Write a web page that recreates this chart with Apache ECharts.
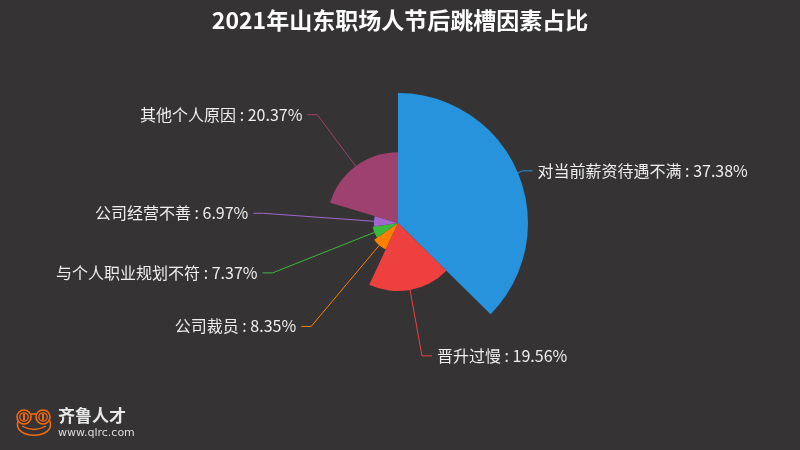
<!DOCTYPE html>
<html><head><meta charset="utf-8">
<script src="https://cdn.jsdelivr.net/npm/echarts@6/dist/echarts.min.js"></script>
<style>html,body{margin:0;padding:0;background:#353334}#c{width:800px;height:450px}</style>
</head><body><div id="c"></div>
<script>
const titleText = '2021年山东职场人节后跳槽因素占比';
const categories = ['对当前薪资待遇不满','晋升过慢','公司裁员','与个人职业规划不符','公司经营不善','其他个人原因'];
const values = [37.38, 19.56, 8.35, 7.37, 6.97, 20.37];
const colors = ['#2693dc','#ef4040','#ff8000','#3cb83c','#a066cc','#9e416e'];

const chart = echarts.init(document.getElementById('c'), null, {renderer:'canvas'});
const data = categories.map((n,i)=>({
  name:n, value:values[i],
  itemStyle:{color:colors[i]},
  labelLine:{lineStyle:{color:colors[i]}}
}));
const FONT = '"Noto Sans CJK SC","Noto Sans",sans-serif';
const LOGO = '#f56a0c';
chart.setOption({
  backgroundColor:'#353334',
  title:{text:titleText,left:'center',top:4,textStyle:{color:'#ffffff',fontSize:23,fontWeight:'bold',fontFamily:FONT}},
  series:[{
    type:'pie', roseType:'radius', center:[398,223], radius:[0,130], startAngle:90, clockwise:true,
    avoidLabelOverlap:true,
    label:{color:'#eeeeee',fontSize:16,fontFamily:FONT,formatter:p=>p.name+' : '+p.value.toFixed(2)+'%'},
    labelLine:{length:5,length2:10,smooth:false,lineStyle:{width:1}},
    data:data
  }],
  graphic:[
    {type:'circle',shape:{cx:24,cy:417,r:7},style:{fill:'none',stroke:LOGO,lineWidth:1.6}},
    {type:'circle',shape:{cx:43,cy:417,r:7},style:{fill:'none',stroke:LOGO,lineWidth:1.6}},
    {type:'circle',shape:{cx:24,cy:417,r:4.2},style:{fill:'none',stroke:LOGO,lineWidth:1.3}},
    {type:'circle',shape:{cx:43,cy:417,r:4.2},style:{fill:'none',stroke:LOGO,lineWidth:1.3}},
    {type:'rect',shape:{x:23,y:414,width:2,height:6},style:{fill:LOGO}},
    {type:'rect',shape:{x:42,y:414,width:2,height:6},style:{fill:LOGO}},
    {type:'line',shape:{x1:31,y1:414,x2:36,y2:414},style:{stroke:LOGO,lineWidth:1.6}},
    {type:'bezierCurve',shape:{x1:18,y1:421,x2:50,y2:421,cpx1:12,cpy1:440,cpx2:56,cpy2:440},style:{fill:'none',stroke:LOGO,lineWidth:1.6}},
    {type:'bezierCurve',shape:{x1:22,y1:426,x2:46,y2:426,cpx1:34,cpy1:433},style:{fill:'none',stroke:LOGO,lineWidth:1.4}},
    {type:'text',x:58,y:407,style:{text:'齐鲁人才',fill:'#e8e8e8',font:'bold 17px "Noto Sans CJK SC"'}},
    {type:'text',x:58,y:428,style:{text:'www.qlrc.com',fill:'#dddddd',font:'11px "DejaVu Sans"'}}
  ]
});
</script></body></html>
